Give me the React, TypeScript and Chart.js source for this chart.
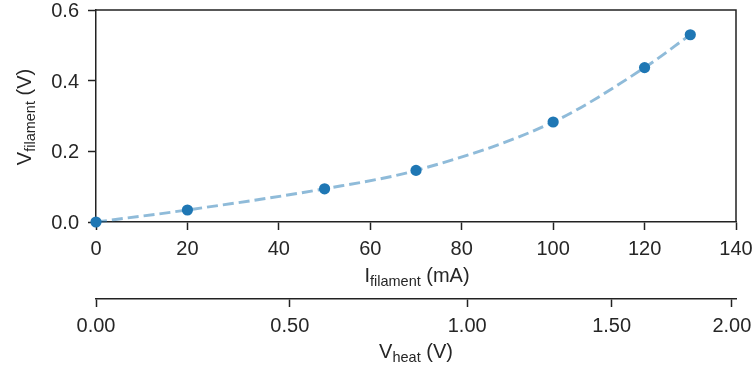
import { useEffect, useRef } from "react";
import { Chart, registerables } from "chart.js";

Chart.register(...registerables);

// ---- data ----
const filamentCurrentMA = [0, 20, 50, 70, 100, 120, 130];
const filamentVoltageV = [0, 0.034, 0.094, 0.146, 0.283, 0.437, 0.53];
const heatTickCurrentMA = [0, 42.4, 81.2, 112.8, 139.1];
const heatTickLabels = ["0.00", "0.50", "1.00", "1.50", "2.00"];

const FONT = "'Liberation Sans', Arial, Helvetica, sans-serif";
const MAIN_SIZE = 20;
const SUB_SIZE = 14.5;
const INK = "#262626";
const SPINE = "#222222";
const BLUE = "#1f77b4";

type Part = { t: string; sub?: boolean };

function drawSubText(ctx: CanvasRenderingContext2D, parts: Part[], cx: number, baseY: number) {
  let total = 0;
  const widths = parts.map((p) => {
    ctx.font = `${p.sub ? SUB_SIZE : MAIN_SIZE}px ${FONT}`;
    const w = ctx.measureText(p.t).width;
    total += w;
    return w;
  });
  let x = cx - total / 2;
  ctx.textAlign = "left";
  ctx.textBaseline = "alphabetic";
  ctx.fillStyle = INK;
  parts.forEach((p, i) => {
    ctx.font = `${p.sub ? SUB_SIZE : MAIN_SIZE}px ${FONT}`;
    ctx.fillText(p.t, x, baseY + (p.sub ? 4 : 0));
    x += widths[i];
  });
}

const framePlugin = {
  id: "frame",
  beforeDatasetsDraw(chart: any) {
    const { ctx, chartArea } = chart;
    ctx.save();
    ctx.strokeStyle = SPINE;
    ctx.lineWidth = 1.5;
    ctx.beginPath();
    ctx.moveTo(chartArea.left, chartArea.top);
    ctx.lineTo(chartArea.right, chartArea.top);
    ctx.lineTo(chartArea.right, chartArea.bottom);
    ctx.stroke();
    ctx.restore();
  },
};

const titlesPlugin = {
  id: "subTitles",
  afterDraw(chart: any) {
    const { ctx, chartArea, scales } = chart;
    const cx = (chartArea.left + chartArea.right) / 2;
    const cy = (chartArea.top + chartArea.bottom) / 2;
    ctx.save();
    drawSubText(ctx, [{ t: "I" }, { t: "filament", sub: true }, { t: " (mA)" }], cx + 1, scales.x.top + 60);
    drawSubText(ctx, [{ t: "V" }, { t: "heat", sub: true }, { t: " (V)" }], cx, scales.x2.top + 59);
    ctx.translate(31, cy + 1);
    ctx.rotate(-Math.PI / 2);
    drawSubText(ctx, [{ t: "V" }, { t: "filament", sub: true }, { t: " (V)" }], 0, 0);
    ctx.restore();
  },
};

export default function App() {
  const ref = useRef<HTMLCanvasElement | null>(null);

  useEffect(() => {
    document.body.style.margin = "0";
    const canvas = ref.current;
    if (!canvas) return;

    const tickFont = { family: FONT, size: MAIN_SIZE };
    const gridOpts = {
      drawOnChartArea: false,
      drawTicks: true,
      tickLength: 8,
      tickWidth: 1.5,
      tickColor: SPINE,
    };
    const borderOpts = { display: true, color: SPINE, width: 1.5 };

    const chart = new Chart(canvas, {
      type: "line",
      data: {
        datasets: [
          {
            data: filamentCurrentMA.map((x, i) => ({ x, y: filamentVoltageV[i] })),
            borderColor: "rgba(31,119,180,0.5)",
            borderWidth: 2.9,
            borderDash: [11, 5],
            cubicInterpolationMode: "monotone",
            pointRadius: 5.6,
            pointHoverRadius: 5.6,
            pointBackgroundColor: BLUE,
            pointBorderColor: BLUE,
            pointBorderWidth: 0,
            clip: false as any,
            xAxisID: "x",
            yAxisID: "y",
          } as any,
        ],
      },
      options: {
        responsive: false,
        animation: false,
        devicePixelRatio: 1,
        layout: { padding: { left: 0, top: 10, right: 19, bottom: 0 } },
        plugins: {
          legend: { display: false },
          tooltip: { enabled: false },
          title: { display: false },
        },
        scales: {
          x: {
            type: "linear",
            position: "bottom",
            weight: 0,
            min: 0,
            max: 140,
            ticks: {
              stepSize: 20,
              font: tickFont,
              color: INK,
              padding: 7,
              maxRotation: 0,
              callback: (v: any) => String(v),
            },
            grid: gridOpts,
            border: borderOpts,
            afterFit: (s: any) => {
              s.height = 77;
              s.paddingLeft = 0;
              s.paddingRight = 0;
            },
          } as any,
          x2: {
            type: "linear",
            position: "bottom",
            weight: 1,
            min: 0,
            max: 140,
            afterBuildTicks: (s: any) => {
              s.ticks = heatTickCurrentMA.map((value) => ({ value }));
            },
            ticks: {
              font: tickFont,
              color: INK,
              padding: 7,
              maxRotation: 0,
              autoSkip: false,
              callback: (_v: any, i: number) => heatTickLabels[i],
            },
            grid: gridOpts,
            border: borderOpts,
            afterFit: (s: any) => {
              s.height = 73;
              s.paddingLeft = 0;
              s.paddingRight = 0;
            },
          } as any,
          y: {
            type: "linear",
            position: "left",
            min: 0,
            max: 0.6,
            ticks: {
              stepSize: 0.2,
              font: tickFont,
              color: INK,
              padding: 9,
              labelOffset: 1.5,
              callback: (v: any) => Number(v).toFixed(1),
            },
            grid: gridOpts,
            border: borderOpts,
            afterFit: (s: any) => {
              s.width = 96;
              s.paddingTop = 0;
              s.paddingBottom = 0;
            },
          } as any,
        },
      },
      plugins: [framePlugin, titlesPlugin],
    });

    return () => chart.destroy();
  }, []);

  return (
    <div style={{ width: 755, height: 372 }}>
      <canvas ref={ref} width={755} height={372} style={{ display: "block" }} />
    </div>
  );
}
